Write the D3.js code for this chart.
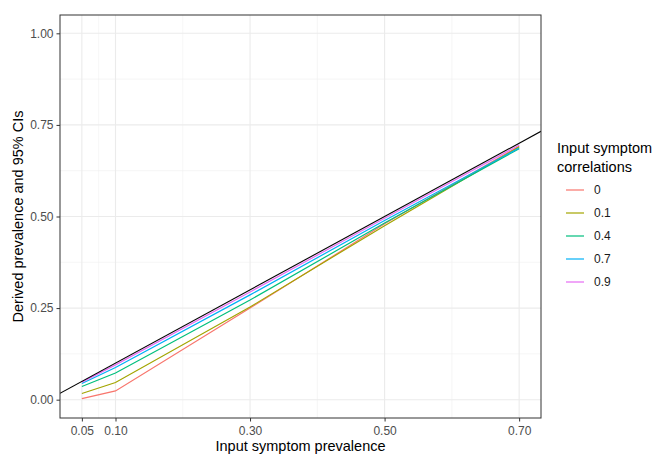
<!DOCTYPE html>
<html>
<head>
<meta charset="utf-8">
<script src="https://cdn.jsdelivr.net/npm/d3@7"></script>
<style>
  body { margin: 0; background: #fff; }
  text { font-family: "Liberation Sans", Arial, sans-serif; }
</style>
</head>
<body>
<div id="chart"></div>
<script>
// data
const prevalence = [0.05, 0.10, 0.30, 0.50, 0.70];
const correlations = ["0", "0.1", "0.4", "0.7", "0.9"];
const derived0 = [0.003, 0.024, 0.250, 0.480, 0.692];
const derived01 = [0.017, 0.047, 0.253, 0.475, 0.690];
const derived04 = [0.036, 0.073, 0.272, 0.482, 0.685];
const derived07 = [0.044, 0.088, 0.286, 0.489, 0.687];
const derived09 = [0.048, 0.095, 0.294, 0.495, 0.695];
const xTicks = [0.05, 0.10, 0.30, 0.50, 0.70];
const xMinor = [0.075, 0.20, 0.40, 0.60];
const yTicks = [0, 0.25, 0.5, 0.75, 1];
const yMinor = [0.125, 0.375, 0.625, 0.875];

const seriesValues = [derived0, derived01, derived04, derived07, derived09];
const colors = ["#F8766D", "#A3A500", "#00BF7D", "#00B0F6", "#E76BF3"];

const width = 662, height = 455;
const pLeft = 60, pRight = 541, pTop = 15, pBottom = 418;

const svg = d3.select("#chart").append("svg")
  .attr("width", width)
  .attr("height", height);

// scales (ggplot-style 5% expansion)
const x = d3.scaleLinear().domain([0.0175, 0.7325]).range([pLeft, pRight]);
const y = d3.scaleLinear().domain([-0.05, 1.05]).range([pBottom, pTop]);

svg.append("defs").append("clipPath").attr("id", "panel")
  .append("rect")
  .attr("x", pLeft).attr("y", pTop)
  .attr("width", pRight - pLeft).attr("height", pBottom - pTop);

// grid
const grid = svg.append("g");
grid.selectAll(".xminor").data(xMinor).enter().append("line")
  .attr("x1", d => x(d)).attr("x2", d => x(d))
  .attr("y1", pTop).attr("y2", pBottom)
  .attr("stroke", "#F0F0F0").attr("stroke-width", 0.6);
grid.selectAll(".yminor").data(yMinor).enter().append("line")
  .attr("x1", pLeft).attr("x2", pRight)
  .attr("y1", d => y(d)).attr("y2", d => y(d))
  .attr("stroke", "#F0F0F0").attr("stroke-width", 0.6);
grid.selectAll(".xmajor").data(xTicks).enter().append("line")
  .attr("x1", d => x(d)).attr("x2", d => x(d))
  .attr("y1", pTop).attr("y2", pBottom)
  .attr("stroke", "#EBEBEB").attr("stroke-width", 1.1);
grid.selectAll(".ymajor").data(yTicks).enter().append("line")
  .attr("x1", pLeft).attr("x2", pRight)
  .attr("y1", d => y(d)).attr("y2", d => y(d))
  .attr("stroke", "#EBEBEB").attr("stroke-width", 1.1);

// lines
const line = d3.line()
  .x((d, i) => x(prevalence[i]))
  .y(d => y(d));

const plot = svg.append("g").attr("clip-path", "url(#panel)");
plot.selectAll(".series").data(seriesValues).enter().append("path")
  .attr("d", d => line(d))
  .attr("fill", "none")
  .attr("stroke", (d, i) => colors[i])
  .attr("stroke-width", 1.2);

// identity line y = x
const xd = x.domain();
plot.append("line")
  .attr("x1", x(xd[0])).attr("y1", y(xd[0]))
  .attr("x2", x(xd[1])).attr("y2", y(xd[1]))
  .attr("stroke", "#000").attr("stroke-width", 1.1);

// panel border
svg.append("rect")
  .attr("x", pLeft).attr("y", pTop)
  .attr("width", pRight - pLeft).attr("height", pBottom - pTop)
  .attr("fill", "none").attr("stroke", "#333333").attr("stroke-width", 1);

// axes
const xAxis = svg.append("g")
  .attr("transform", `translate(0,${pBottom})`)
  .call(d3.axisBottom(x).tickValues(xTicks).tickFormat(d3.format(".2f")).tickSizeOuter(0).tickSize(3.5).tickPadding(5));
const yAxis = svg.append("g")
  .attr("transform", `translate(${pLeft},0)`)
  .call(d3.axisLeft(y).tickValues(yTicks).tickFormat(d3.format(".2f")).tickSizeOuter(0).tickSize(3.5).tickPadding(3));

[xAxis, yAxis].forEach(a => {
  a.select(".domain").remove();
  a.selectAll(".tick line").attr("stroke", "#333333").attr("stroke-width", 1);
  a.selectAll(".tick text")
    .style("fill", "#4D4D4D")
    .style("font-size", "12px")
    .style("font-family", "'Liberation Sans', Arial, sans-serif");
});

// axis titles
svg.append("text")
  .attr("x", (pLeft + pRight) / 2).attr("y", 451)
  .attr("text-anchor", "middle")
  .style("font-size", "14.5px")
  .text("Input symptom prevalence");

svg.append("text")
  .attr("transform", `translate(23,${(pTop + pBottom) / 2}) rotate(-90)`)
  .attr("text-anchor", "middle")
  .style("font-size", "14.5px")
  .text("Derived prevalence and 95% CIs");

// legend
const legend = svg.append("g");
legend.append("text").attr("x", 557).attr("y", 153)
  .style("font-size", "14.5px").text("Input symptom");
legend.append("text").attr("x", 557).attr("y", 172)
  .style("font-size", "14.5px").text("correlations");

const keys = legend.selectAll(".key").data(correlations).enter().append("g")
  .attr("transform", (d, i) => `translate(0,${190 + i * 23})`);
keys.append("line")
  .attr("x1", 566).attr("x2", 584)
  .attr("stroke", (d, i) => colors[i]).attr("stroke-width", 1.2);
keys.append("text")
  .attr("x", 594).attr("y", 4)
  .style("font-size", "12px")
  .style("fill", "#1A1A1A")
  .text(d => d);
</script>
</body>
</html>
